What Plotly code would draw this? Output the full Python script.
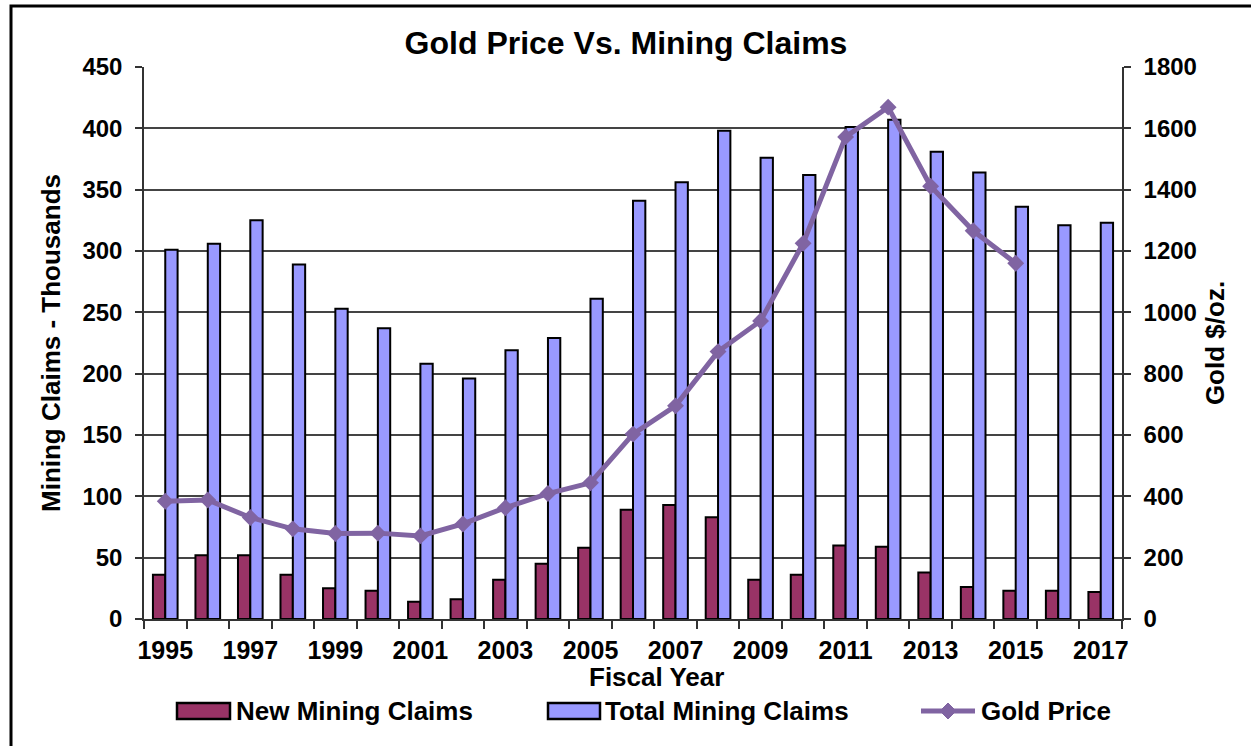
import plotly.graph_objects as go

# Fiscal years on the category axis
years = list(range(1995, 2018))

# Mining claims, thousands
new_claims = [36, 52, 52, 36, 25, 23, 14, 16, 32, 45, 58, 89,
              93, 83, 32, 36, 60, 59, 38, 26, 23, 23, 22]
total_claims = [301, 306, 325, 289, 253, 237, 208, 196, 219, 229, 261, 341,
                356, 398, 376, 362, 401, 407, 381, 364, 336, 321, 323]

# Average gold price, $/oz. (through 2015)
gold_years = list(range(1995, 2016))
gold_price = [384, 388, 331, 294, 279, 280, 271, 310, 363, 409, 444, 603,
              695, 872, 972, 1225, 1572, 1669, 1411, 1266, 1160]

left_ticks = list(range(0, 451, 50))
right_ticks = list(range(0, 1801, 200))
label_years = list(range(1995, 2018, 2))

FONT = "Arial, Liberation Sans, sans-serif"
W, H = 1251, 746
ML, MR, MT, MB = 144, 129, 67, 127
PW, PH = W - ML - MR, H - MT - MB

NEW_COLOR, TOTAL_COLOR, GOLD_COLOR = "#993366", "#9999FF", "#8064A2"


def px_x(p):
    return (p - ML) / PW


def px_y(p):
    return (H - MB - p) / PH


fig = go.Figure()

fig.add_trace(go.Bar(
    x=years, y=new_claims, name="New Mining Claims",
    marker=dict(color=NEW_COLOR, line=dict(color="black", width=2)),
))
fig.add_trace(go.Bar(
    x=years, y=total_claims, name="Total Mining Claims",
    marker=dict(color=TOTAL_COLOR, line=dict(color="black", width=2)),
))
fig.add_trace(go.Scatter(
    x=gold_years, y=gold_price, name="Gold Price", yaxis="y2",
    mode="lines+markers",
    line=dict(color=GOLD_COLOR, width=5),
    marker=dict(symbol="diamond", size=13, color=GOLD_COLOR),
))

# Legend row below the axis: swatches drawn as shapes, labels as text
legend_y = 711
shapes = [
    dict(type="rect", xref="paper", yref="paper",
         x0=px_x(11), x1=px_x(W + 20), y0=px_y(H + 20), y1=px_y(6),
         line=dict(color="black", width=3), fillcolor="rgba(0,0,0,0)",
         layer="below"),
    dict(type="rect", xref="paper", yref="paper",
         x0=px_x(177), x1=px_x(230), y0=px_y(legend_y + 8), y1=px_y(legend_y - 8),
         line=dict(color="black", width=2.5), fillcolor=NEW_COLOR),
    dict(type="rect", xref="paper", yref="paper",
         x0=px_x(548), x1=px_x(600), y0=px_y(legend_y + 8), y1=px_y(legend_y - 8),
         line=dict(color="black", width=2.5), fillcolor=TOTAL_COLOR),
    dict(type="line", xref="paper", yref="paper",
         x0=px_x(921), x1=px_x(975), y0=px_y(legend_y), y1=px_y(legend_y),
         line=dict(color=GOLD_COLOR, width=5)),
    dict(type="path", xref="paper", yref="paper",
         path=(f"M {px_x(948)},{px_y(legend_y - 8)} L {px_x(956)},{px_y(legend_y)} "
               f"L {px_x(948)},{px_y(legend_y + 8)} L {px_x(940)},{px_y(legend_y)} Z"),
         line=dict(color=GOLD_COLOR, width=1), fillcolor=GOLD_COLOR),
]

annotations = [
    dict(text="<b>Fiscal Year</b>", xref="paper", yref="paper",
         x=px_x(656), y=px_y(677), xanchor="center", yanchor="middle",
         showarrow=False, font=dict(size=26)),
]
for label, x_left in [("New Mining Claims", 234), ("Total Mining Claims", 603),
                      ("Gold Price", 979)]:
    annotations.append(dict(
        text=f"<b>{label}</b>", xref="paper", yref="paper",
        x=px_x(x_left), y=px_y(legend_y), xanchor="left", yanchor="middle",
        showarrow=False, font=dict(size=26)))

fig.update_layout(
    width=W, height=H,
    margin=dict(l=ML, r=MR, t=MT, b=MB, autoexpand=False),
    paper_bgcolor="white", plot_bgcolor="white",
    font=dict(family=FONT, size=24, color="black"),
    showlegend=False,
    barmode="group", bargap=0.42, bargroupgap=0,
    title=dict(text="<b>Gold Price Vs. Mining Claims</b>",
               x=px_x(626), xref="paper", xanchor="center",
               y=1 - 43 / H, yanchor="middle",
               font=dict(size=32)),
    xaxis=dict(
        range=[1994.5, 2017.5],
        tickvals=label_years, ticktext=[f"<b>{y}</b>" for y in label_years],
        ticks="", ticklabelstandoff=8,
        tickfont=dict(size=25),
        minor=dict(tickvals=[y + 0.5 for y in range(1994, 2018)],
                   ticks="outside", ticklen=8, tickcolor="#333333",
                   tickwidth=1.5, showgrid=False),
        showgrid=False, zeroline=False,
        showline=True, linecolor="#333333", linewidth=1.5,
    ),
    yaxis=dict(
        range=[0, 450], tickvals=left_ticks,
        ticktext=[f"<b>{v}</b>" for v in left_ticks],
        ticks="outside", ticklen=7, tickcolor="#333333", tickwidth=1.5,
        ticklabelstandoff=8,
        tickfont=dict(size=24),
        showgrid=True, gridcolor="#444444", gridwidth=1.5,
        zeroline=False, showline=True, linecolor="#333333", linewidth=1.5,
        title=dict(text="<b>Mining Claims - Thousands</b>",
                   font=dict(size=26), standoff=14),
    ),
    yaxis2=dict(
        overlaying="y", side="right",
        range=[0, 1800], tickvals=right_ticks,
        ticktext=[f"<b>{v}</b>" for v in right_ticks],
        ticks="outside", ticklen=7, tickcolor="#333333", tickwidth=1.5,
        ticklabelstandoff=8,
        tickfont=dict(size=24),
        showgrid=False, zeroline=False,
        showline=True, linecolor="#333333", linewidth=1.5,
        title=dict(text="<b>Gold $/oz.</b>", font=dict(size=26), standoff=10),
    ),
    shapes=shapes,
    annotations=annotations,
)

fig.write_html("out.html")
